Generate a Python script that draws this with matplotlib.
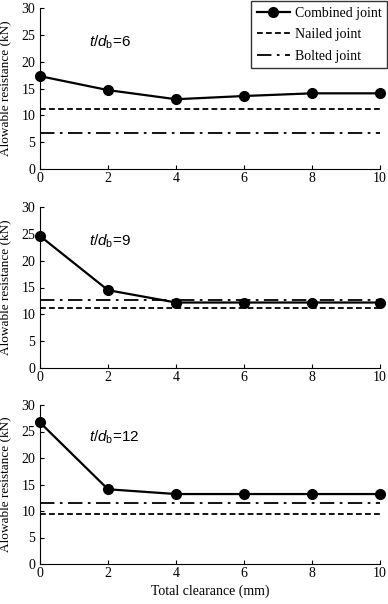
import numpy as np
import matplotlib
matplotlib.use('Agg')
import matplotlib.pyplot as plt

plt.rcParams['font.family'] = 'Liberation Serif'
plt.rcParams['mathtext.fontset'] = 'custom'
plt.rcParams['mathtext.rm'] = 'Liberation Sans'
plt.rcParams['mathtext.it'] = 'Liberation Sans:italic'

# data
clearance = [0, 2, 4, 6, 8, 10]
ratios = ['6', '9', '12']
combined = [
    [17.3, 14.7, 13.0, 13.6, 14.1, 14.1],
    [24.6, 14.5, 12.2, 12.2, 12.2, 12.2],
    [26.7, 14.1, 13.2, 13.2, 13.2, 13.2],
]
nailed = [11.1, 11.2, 9.4]
bolted = [6.8, 12.7, 11.5]

fig = plt.figure(figsize=(3.88, 6.04), dpi=100)

# axes boxes in pixels (left, top, right, bottom)
boxes = [(40, 8, 380, 169), (40, 207, 380, 368), (40, 405, 380, 564)]
W, H = 388.0, 604.0

axes = []
for i, (l, t, r, b) in enumerate(boxes):
    ax = fig.add_axes([l / W, 1 - b / H, (r - l) / W, (b - t) / H])
    axes.append(ax)

    h1, = ax.plot(clearance, combined[i], color='black', lw=1.6, marker='o',
                  ms=7, clip_on=False, zorder=3, label='Combined joint')
    h2, = ax.plot([clearance[0], clearance[-1]], [nailed[i]] * 2, color='black',
                  lw=1.3, dashes=(3.2, 1.8), label='Nailed joint')
    h3, = ax.plot([clearance[0], clearance[-1]], [bolted[i]] * 2, color='black',
                  lw=1.3, dashes=(8, 3, 1.5, 3), label='Bolted joint')

    ax.set_xlim(0, 10)
    ax.set_ylim(0, 30)
    ax.set_xticks(range(0, 11, 2))
    ax.set_yticks(range(0, 31, 5))
    ax.tick_params(direction='in', length=3, width=0.8, labelsize=10)
    ax.tick_params(axis='y', pad=3.5)
    ax.tick_params(axis='x', pad=2.5)
    for s in ['top', 'right']:
        ax.spines[s].set_visible(False)
    ax.set_ylabel('Alowable resistance (kN)', fontsize=9.5)
    ax.yaxis.set_label_coords(-0.085, 0.5)

    ax.text(1.45, 23.7 if i < 2 else 24.0, r'$t/d_{\mathrm{b}}$=' + ratios[i],
            fontsize=11, family='Liberation Sans', va='center', ha='left')

axes[2].set_xlabel('Total clearance (mm)', fontsize=10, labelpad=3)

leg = fig.legend(handles=[h1, h2, h3], loc='upper right',
                 bbox_to_anchor=(387 / W, 1 - 1 / H),
                 fontsize=10, frameon=True, fancybox=False,
                 edgecolor='black', handlelength=2.4, borderaxespad=0,
                 labelspacing=0.62, handletextpad=0.35, borderpad=0.4)
leg.get_frame().set_linewidth(1.0)

fig.savefig('out.png', dpi=100)
